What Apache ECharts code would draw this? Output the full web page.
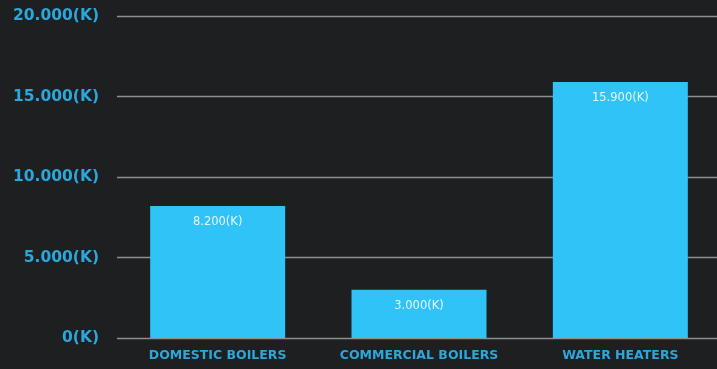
<!DOCTYPE html>
<html><head><meta charset="utf-8">
<script src="https://cdn.jsdelivr.net/npm/echarts@6/dist/echarts.min.js"></script>
<style>html,body{margin:0;padding:0;background:#1e1f21;}#c{width:717px;height:369px;}</style>
</head><body><div id="c"></div>
<script>
const categories = ['DOMESTIC BOILERS', 'COMMERCIAL BOILERS', 'WATER HEATERS'];
const values = [8200, 3000, 15900];
const yTicks = [0, 5000, 10000, 15000, 20000];

function fmt(v) {
  return String(v).replace(/\B(?=(\d{3})+(?!\d))/g, '.') + '(K)';
}

const chart = echarts.init(document.getElementById('c'));
chart.setOption({
  backgroundColor: '#1e1f21',
  animation: false,
  grid: { left: 117, right: -4, top: 16, bottom: 31, outerBoundsMode: 'none' },
  xAxis: {
    type: 'category',
    data: categories,
    axisLine: { show: false },
    axisTick: { show: false },
    axisLabel: { interval: 0, color: '#2aa8dc', fontFamily: 'DejaVu Sans', fontWeight: 'bold', fontSize: 12.5, margin: 11 }
  },
  yAxis: {
    type: 'value',
    min: yTicks[0],
    max: yTicks[yTicks.length - 1],
    interval: 5000,
    axisLine: { show: false },
    axisTick: { show: false },
    splitLine: { lineStyle: { color: '#8e8e8e', width: 1.3 } },
    axisLabel: { color: '#2aa8dc', fontFamily: 'DejaVu Sans', fontWeight: 'bold', fontSize: 15.5, margin: 18, formatter: fmt }
  },
  series: [{
    type: 'bar',
    data: values,
    barWidth: 135,
    itemStyle: { color: '#2fc3f7' },
    label: {
      show: true,
      position: 'insideTop',
      distance: 10,
      color: '#e6f6fc',
      fontFamily: 'DejaVu Sans',
      fontSize: 11.5,
      formatter: p => fmt(p.value)
    }
  }]
});
</script></body></html>
